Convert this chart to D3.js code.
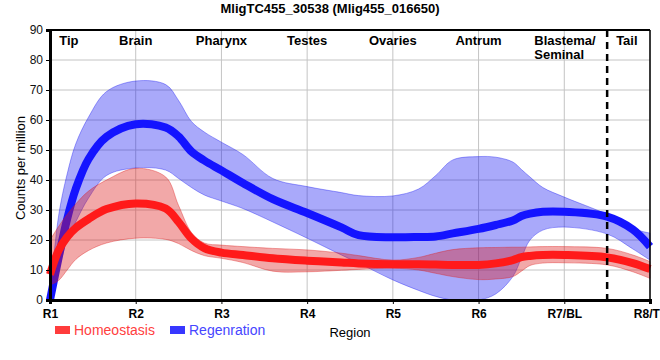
<!DOCTYPE html>
<html>
<head>
<meta charset="utf-8">
<script src="https://cdn.jsdelivr.net/npm/d3@7"></script>
<style>
  body { margin: 0; background: #fff; }
  svg { font-family: "Liberation Sans", Arial, sans-serif; display: block; }
</style>
</head>
<body>
<script>
// Data (region units, counts per million)
const regions = ['R1', 'R2', 'R3', 'R4', 'R5', 'R6', 'R7/BL', 'R8/TL']
const xs = [1, 1.1, 1.2, 1.3, 1.45, 1.66, 2, 2.35, 2.5, 2.65, 2.8, 3, 3.25, 3.6, 4, 4.4, 4.6, 5, 5.3, 5.5, 5.7, 6, 6.2, 6.4, 6.5, 6.6, 6.75, 7, 7.5, 7.8, 8]

const homMean = [8.5, 16.5, 21, 24, 27, 30.3, 32.2, 30.5, 26, 20.5, 17.3, 15.8, 15, 13.9, 13.1, 12.5, 12.2, 11.9, 11.9, 11.8, 11.7, 11.7, 12.2, 13.3, 14.3, 14.7, 15, 15, 14.2, 12.3, 10.3]
const homHi = [20, 24.5, 28.5, 32, 36.3, 40, 43.9, 41, 31.5, 22.5, 19, 18.3, 17.8, 17.2, 16.7, 15.6, 14.8, 13.3, 14.2, 15.6, 16.8, 17.4, 17.5, 17.6, 17.6, 17.7, 17.8, 17.8, 17.2, 15, 12.8]
const homLo = [5, 6.5, 10, 13.5, 16.5, 19, 20.6, 20.2, 18.8, 16.5, 14.8, 13.9, 12.5, 9.6, 9.4, 9.9, 10.2, 10.6, 10, 8.9, 7.8, 6.8, 7, 7.8, 9.6, 11.5, 12.3, 12.4, 11.7, 9.4, 7.2]

const regMean = [0, 14, 27, 37, 47, 54.4, 58.6, 57.5, 54.5, 49.5, 46.5, 43.2, 39, 33.6, 29, 24.2, 21.6, 20.9, 21, 21.2, 22.2, 23.7, 25, 26.5, 28, 28.8, 29.4, 29.4, 27.8, 23.5, 17.8]
const regHi = [1, 28, 42, 52, 61, 69.5, 73, 71.8, 66.5, 59.5, 56, 52.6, 48.5, 40.5, 37.8, 35.8, 34.8, 34.7, 37, 41.5, 46.7, 47.8, 47.6, 46, 43.5, 41, 37.5, 34.3, 28.5, 23.8, 22.3]
const regLo = [0, 10, 20, 26, 34, 41.5, 44, 43.3, 40.5, 37.5, 35, 33, 30.5, 26, 20.6, 15, 12.3, 6.7, 3.2, 1.2, 0, 0, 2, 7.8, 14, 20, 23.3, 24.3, 22, 17, 13.3]

const tissues = ['Tip', 'Brain', 'Pharynx', 'Testes', 'Ovaries', 'Antrum', 'Blastema/', 'Tail']
const tissueAt = [1.22, 2, 3, 4, 5, 6, 6.65, 7.73]
const tailDivider = 7.5
const yTicks = [0, 10, 20, 30, 40, 50, 60, 70, 80, 90]

const w = 660
const h = 360
const m = { left: 50, right: 10, top: 30, bottom: 60 }

const svg = d3.select('body').append('svg')
  .attr('width', w)
  .attr('height', h)

const x = d3.scaleLinear().domain([1, 8]).range([m.left, w - m.right])
const y = d3.scaleLinear().domain([0, 90]).range([h - m.bottom, m.top])

// grid
svg.append('g').selectAll('line')
  .data(yTicks.slice(1))
  .enter().append('line')
  .attr('x1', x(1)).attr('x2', x(8))
  .attr('y1', d => y(d)).attr('y2', d => y(d))
  .attr('stroke', '#c4c4c4')
  .attr('stroke-width', 1)

svg.append('g').selectAll('line')
  .data(d3.range(2, 9))
  .enter().append('line')
  .attr('x1', d => x(d)).attr('x2', d => x(d))
  .attr('y1', y(0)).attr('y2', y(90))
  .attr('stroke', '#c4c4c4')
  .attr('stroke-width', 1)

// series
const series = [
  { name: 'Regenration', mean: regMean, lo: regLo, hi: regHi, line: '#1414ff', band: 'rgba(10,10,240,0.35)', text: '#4646ff' },
  { name: 'Homeostasis', mean: homMean, lo: homLo, hi: homHi, line: '#ff1a1a', band: 'rgba(220,25,25,0.38)', text: '#ff4040' }
]

const curve = d3.curveCatmullRom.alpha(0.5)
const area = d3.area().curve(curve)
const line = d3.line().curve(curve)

series.forEach(s => {
  const pts = xs.map((v, i) => ({ x: v, m: s.mean[i], lo: s.lo[i], hi: s.hi[i] }))
  svg.append('path')
    .datum(pts)
    .attr('d', area.x(d => x(d.x)).y0(d => y(d.lo)).y1(d => y(d.hi)))
    .attr('fill', s.band)
    .attr('stroke', s.band)
    .attr('stroke-width', 1)
  svg.append('path')
    .datum(pts)
    .attr('d', line.x(d => x(d.x)).y(d => y(d.m)))
    .attr('fill', 'none')
    .attr('stroke', s.line)
    .attr('stroke-width', 8)
})

// frame
svg.append('line')
  .attr('x1', x(1)).attr('x2', x(8))
  .attr('y1', y(90)).attr('y2', y(90))
  .attr('stroke', '#000').attr('stroke-width', 2)
svg.append('line')
  .attr('x1', x(8)).attr('x2', x(8))
  .attr('y1', y(90)).attr('y2', y(0))
  .attr('stroke', '#000').attr('stroke-width', 1.5)

// tail divider
svg.append('line')
  .attr('x1', x(tailDivider)).attr('x2', x(tailDivider))
  .attr('y1', y(90)).attr('y2', y(0) + 4)
  .attr('stroke', '#000')
  .attr('stroke-width', 2.5)
  .attr('stroke-dasharray', '7,5')

// axes
const xAxis = svg.append('g')
  .attr('transform', 'translate(0,' + y(0) + ')')
  .call(d3.axisBottom(x).tickValues(d3.range(1, 9)).tickFormat((d, i) => regions[i]).tickSize(4).tickPadding(5))
xAxis.select('.domain').attr('stroke-width', 3)
xAxis.selectAll('text')
  .style('font-size', '12px')
  .style('font-weight', 'bold')
  .attr('fill', '#000')

const yAxis = svg.append('g')
  .attr('transform', 'translate(' + x(1) + ',0)')
  .call(d3.axisLeft(y).tickValues(yTicks).tickSize(4).tickPadding(3))
yAxis.select('.domain').attr('stroke-width', 3)
yAxis.selectAll('text')
  .style('font-size', '12px')
  .attr('fill', '#111')

// tissue labels
svg.append('g').selectAll('text')
  .data(tissues)
  .enter().append('text')
  .attr('x', (d, i) => x(tissueAt[i]))
  .attr('y', 45)
  .attr('text-anchor', d => d === 'Blastema/' ? 'start' : 'middle')
  .style('font-size', '13px')
  .style('font-weight', 'bold')
  .text(d => d)

svg.append('text')
  .attr('x', x(6.65))
  .attr('y', 59)
  .style('font-size', '13px')
  .style('font-weight', 'bold')
  .text('Seminal')

// titles
svg.append('text')
  .attr('x', w / 2)
  .attr('y', 13)
  .attr('text-anchor', 'middle')
  .style('font-size', '13px')
  .style('font-weight', 'bold')
  .text('MligTC455_30538 (Mlig455_016650)')

svg.append('text')
  .attr('x', 350)
  .attr('y', 337)
  .attr('text-anchor', 'middle')
  .style('font-size', '13px')
  .text('Region')

svg.append('text')
  .attr('transform', 'translate(25,168) rotate(-90)')
  .attr('text-anchor', 'middle')
  .style('font-size', '13px')
  .text('Counts per million')

// legend
const legend = svg.append('g').attr('id', 'legend')
const legendItems = [series[1], series[0]]
const legendX = [55, 170]
legendItems.forEach((s, i) => {
  legend.append('rect')
    .attr('x', legendX[i])
    .attr('y', 326)
    .attr('width', 15)
    .attr('height', 8)
    .attr('fill', s.line)
    .attr('opacity', 0.85)
  legend.append('text')
    .attr('x', legendX[i] + 19)
    .attr('y', 335)
    .style('font-size', '14px')
    .attr('fill', s.text)
    .text(s.name)
})
</script>
</body>
</html>
